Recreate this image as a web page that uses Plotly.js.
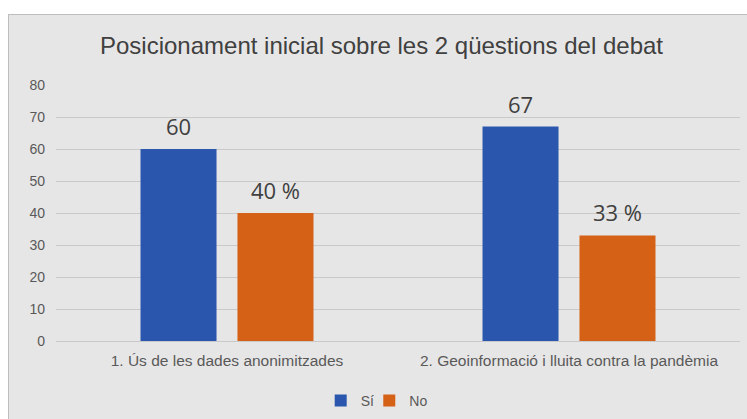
<!DOCTYPE html>
<html><head><meta charset="utf-8">
<script src="https://cdn.plot.ly/plotly-3.0.1.min.js"></script>
<style>
html,body{margin:0;padding:0;background:#fff;overflow:hidden;}
#chart{position:absolute;left:8px;top:14px;width:745px;height:410px;border:1px solid #bdbdbd;}
</style></head>
<body><div id="chart"></div>
<script>
const categories = ["1. Ús de les dades anonimitzades", "2. Geoinformació i lluita contra la pandèmia"];
const siValues = [60, 67];
const noValues = [40, 33];
const siLabels = ["60", "67"];
const noLabels = ["40 %", "33 %"];
const yTicks = [0, 10, 20, 30, 40, 50, 60, 70, 80];

const narrow = "Liberation Sans Narrow, Arial Narrow, sans-serif";
const traces = [
  {type:'bar', name:'Sí', x:categories, y:siValues, marker:{color:'#2a57ad'}, hoverinfo:'none', legend:'legend'},
  {type:'bar', name:'No', x:categories, y:noValues, marker:{color:'#d56116'}, hoverinfo:'none', legend:'legend2'}
];
const annotations = [];
categories.forEach((c,i)=>{
  annotations.push({x:c, y:siValues[i], text:siLabels[i], xref:'x', yref:'y', showarrow:false, yanchor:'bottom', yshift:6, xshift:-48.5, font:{family:'Open Sans, sans-serif', size:22, color:'#404040'}});
  annotations.push({x:c, y:noValues[i], text:noLabels[i], xref:'x', yref:'y', showarrow:false, yanchor:'bottom', yshift:6, xshift:48.5, font:{family:'Open Sans, sans-serif', size:22, color:'#404040'}});
});
const legendBase = {orientation:'h', y:-0.234, yanchor:'middle', xanchor:'left', font:{family:narrow, size:14, color:'#595959'}, itemwidth:30, bgcolor:'rgba(0,0,0,0)'};
const layout = {
  width:745, height:410,
  paper_bgcolor:'#e7e6e6', plot_bgcolor:'#e7e6e6',
  margin:{l:47, r:14, t:70, b:84, autoexpand:false},
  title:{text:'Posicionament inicial sobre les 2 qüestions del debat', font:{family:narrow, size:24, color:'#404040'}, x:0.5, xanchor:'center', y:1 - 31/410, yref:'container', yanchor:'middle'},
  barmode:'group', bargap:0.433, bargroupgap:0.216,
  xaxis:{showgrid:false, showline:false, zeroline:false, ticks:'', tickfont:{family:narrow, size:15.5, color:'#595959'}, ticklabelstandoff:8},
  yaxis:{range:[0,80], tickvals:yTicks, showgrid:true, gridcolor:'#c9c9c9', gridwidth:1, zeroline:true, zerolinecolor:'#c9c9c9', showline:false, ticks:'', tickfont:{family:narrow, size:14, color:'#595959'}, ticklabelstandoff:10},
  legend:Object.assign({}, legendBase, {x:0.387}),
  legend2:Object.assign({}, legendBase, {x:0.458}),
  annotations:annotations,
  showlegend:true
};
Plotly.newPlot('chart', traces, layout, {displayModeBar:false, staticPlot:true});
</script></body></html>
